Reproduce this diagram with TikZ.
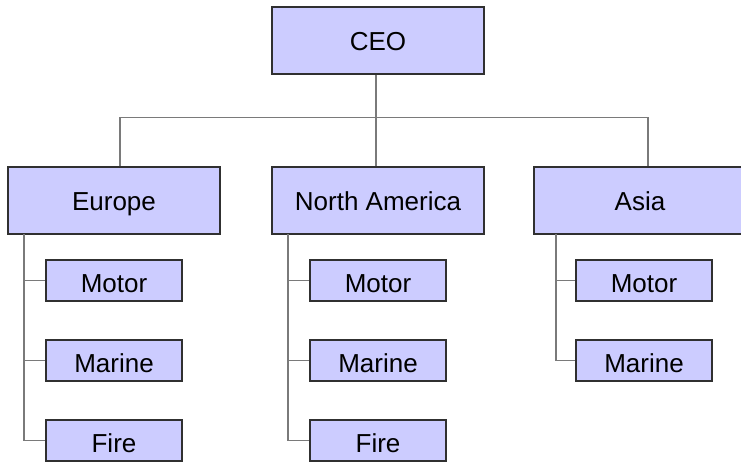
\documentclass[tikz,border=0pt]{standalone}
\usepackage{fontspec}
\setmainfont{Liberation Sans}
\usepackage{xcolor}
\definecolor{boxfill}{HTML}{CCCCFF}
\definecolor{boxline}{HTML}{303030}
\definecolor{wire}{HTML}{7A7A7A}

\begin{document}
\begin{tikzpicture}[x=1pt, y=-1pt,
	unit/.style={draw=boxline, line width=1.2pt, fill=boxfill, inner sep=0pt,
		text depth=0pt, font=\fontsize{26}{30}\selectfont},
	region/.style={unit, minimum width=212pt, minimum height=67pt, text height=20pt},
	branch/.style={unit, minimum width=136pt, minimum height=41pt, text height=24pt},
	wire/.style={draw=wire, line width=1.3pt}]
 \clip (0,0) rectangle (741,461);
 \useasboundingbox (0,0) rectangle (741,461);

 % top level
 \node[region] (ceo) at (378,40.5) {CEO};
 \node[region] (eu) at (114,200.5) {Europe};
 \node[region] (na) at (378,200.5) {North America};
 \node[region] (as) at (640,200.5) {Asia};

 % lines of business
 \node[branch] (eumo) at (114,280.5) {Motor};
 \node[branch] (euma) at (114,360.5) {Marine};
 \node[branch] (eufi) at (114,440.5) {Fire};
 \node[branch] (namo) at (378,280.5) {Motor};
 \node[branch] (nama) at (378,360.5) {Marine};
 \node[branch] (nafi) at (378,440.5) {Fire};
 \node[branch] (asmo) at (644,280.5) {Motor};
 \node[branch] (asma) at (644,360.5) {Marine};

 \coordinate (bus) at (376,117.5);
 \draw[wire] ([xshift=-2pt]ceo.south) -- (bus);
 \draw[wire] ([xshift=6pt]eu.north) |- (bus) -| ([xshift=8pt]as.north);
 \draw[wire] (bus) -- ([xshift=-2pt]na.north);

 \coordinate (eux) at (24,234);
 \coordinate (nax) at (288,234);
 \coordinate (asx) at (556,234);
 \draw[wire] (eux) |- (eumo.west) (eux) |- (euma.west) (eux) |- (eufi.west);
 \draw[wire] (nax) |- (namo.west) (nax) |- (nama.west) (nax) |- (nafi.west);
 \draw[wire] (asx) |- (asmo.west) (asx) |- (asma.west);
\end{tikzpicture}
\end{document}
